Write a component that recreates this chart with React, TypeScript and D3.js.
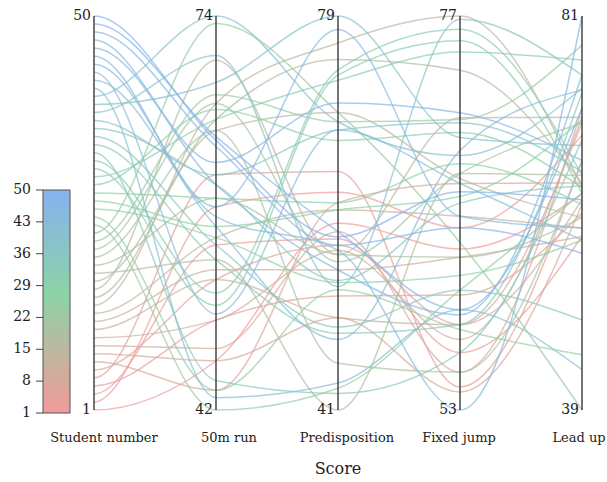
import * as d3 from 'd3';

// ── Layout ────────────────────────────────────────────────────────────────────
const VW = 607;
const VH = 482;
const TOP = 16;
const BOTTOM = 410;
const X_FIRST = 94;
const X_LAST = 582;
// Liberation Serif is not picked up here, DejaVu Serif is the serif that renders
const FONT = "'DejaVu Serif', serif";

// legend bar
const LG = { x: 43, w: 27, top: 190, bottom: 413 };

// ── Data ──────────────────────────────────────────────────────────────────────
const DIMENSIONS = ['Student number', '50m run', 'Predisposition', 'Fixed jump', 'Lead up'];
const LABEL_X = [104, 229, 347, 459, 579];

const STUDENT = [
  1, 2, 3, 4, 5, 6, 7, 8, 9, 10,
  11, 12, 13, 14, 15, 16, 17, 18, 19, 20,
  21, 22, 23, 24, 25, 26, 27, 28, 29, 30,
  31, 32, 33, 34, 35, 36, 37, 38, 39, 40,
  41, 42, 43, 44, 45, 46, 47, 48, 49, 50,
];
const RUN_50M = [
  46.0, 58.5, 55.4, 49.3, 61.1, 52.6, 43.6, 46.0, 47.0, 49.3,
  52.6, 53.4, 56.0, 66.9, 64.7, 70.4, 65.6, 54.2, 59.2, 64.7,
  66.9, 67.6, 73.4, 42.0, 43.6, 56.0, 56.9, 59.2, 66.4, 65.6,
  50.5, 51.5, 44.4, 54.2, 55.4, 60.3, 61.1, 70.8, 68.6, 74.0,
  43.0, 56.9, 49.8, 57.7, 58.5, 60.3, 62.1, 63.4, 64.2, 63.9,
];
const PREDISPOSITION = [
  59.0, 62.0, 57.5, 52.0, 64.0, 56.9, 61.0, 49.9, 58.2, 56.4,
  49.9, 54.5, 60.3, 76.4, 69.7, 56.0, 74.8, 41.0, 56.0, 45.5,
  55.3, 68.8, 69.7, 43.1, 52.6, 53.3, 60.3, 61.0, 67.0, 72.8,
  73.3, 73.8, 42.6, 48.4, 49.0, 53.5, 68.0, 52.9, 79.0, 68.8,
  43.6, 47.8, 68.0, 56.4, 77.7, 54.5, 70.6, 56.9, 58.2, 57.7,
];
const FIXED_JUMP = [
  62.8, 64.1, 56.5, 60.0, 54.4, 58.2, 66.8, 54.1, 55.3, 57.3,
  58.2, 62.3, 64.8, 77.0, 67.1, 70.8, 73.7, 67.4, 62.3, 55.3,
  67.4, 70.7, 63.2, 60.3, 57.9, 61.2, 66.0, 68.0, 69.9, 74.8,
  75.5, 76.2, 56.5, 58.2, 60.3, 65.6, 70.5, 76.8, 69.6, 68.5,
  59.1, 68.8, 66.8, 53.0, 64.8, 58.8, 71.1, 64.1, 59.1, 66.3,
];
const LEAD_UP = [
  62.0, 68.3, 57.5, 60.0, 65.6, 69.6, 63.2, 60.9, 71.2, 70.2,
  61.4, 57.5, 58.4, 62.7, 59.5, 70.2, 63.2, 64.0, 59.5, 65.6,
  69.6, 77.9, 39.0, 62.1, 44.9, 57.1, 69.9, 60.9, 62.7, 76.3,
  62.1, 64.0, 67.8, 72.8, 48.6, 62.9, 64.4, 74.7, 67.2, 73.3,
  43.3, 73.1, 57.1, 81.0, 58.4, 74.7, 65.6, 55.7, 71.2, 61.4,
];
const COLUMNS = [STUDENT, RUN_50M, PREDISPOSITION, FIXED_JUMP, LEAD_UP];

const LEGEND_TICKS = [1, 8, 15, 22, 29, 36, 43, 50];
const COLOR_STOPS = [1, 27, 50];
const COLOR_RANGE = ['#f29a9a', '#8dd3a6', '#86b2ee'];

// ── Curve: monotone cubic, flat start on the first axis ──────────────────────
class Smooth {
  _context: any;
  _line = NaN;
  _x: number[] = [];
  _y: number[] = [];
  constructor(context: any) { this._context = context; }
  areaStart() { this._line = 0; }
  areaEnd() { this._line = NaN; }
  lineStart() { this._x = []; this._y = []; }
  point(x: number, y: number) { this._x.push(+x); this._y.push(+y); }
  lineEnd() {
    const xs = this._x, ys = this._y, n = xs.length, ctx = this._context;
    if (n) {
      if (this._line) ctx.lineTo(xs[0], ys[0]); else ctx.moveTo(xs[0], ys[0]);
      if (n === 2) {
        ctx.lineTo(xs[1], ys[1]);
      } else if (n > 2) {
        const s: number[] = [];
        for (let i = 0; i < n - 1; i++) s[i] = (ys[i + 1] - ys[i]) / (xs[i + 1] - xs[i]);
        const m: number[] = [0];
        for (let i = 1; i < n - 1; i++) {
          const p = (s[i - 1] + s[i]) / 2;
          m[i] = (Math.sign(s[i - 1]) + Math.sign(s[i])) *
            Math.min(Math.abs(s[i - 1]), Math.abs(s[i]), 0.5 * Math.abs(p));
        }
        m[n - 1] = (3 * s[n - 2] - m[n - 2]) / 2;
        for (let i = 0; i < n - 1; i++) {
          const dx = (xs[i + 1] - xs[i]) / 3;
          ctx.bezierCurveTo(
            xs[i] + dx, ys[i] + m[i] * dx,
            xs[i + 1] - dx, ys[i + 1] - m[i + 1] * dx,
            xs[i + 1], ys[i + 1]
          );
        }
      }
    }
    if (this._line || (this._line !== 0 && n === 1)) ctx.closePath();
    this._line = 1 - this._line;
    this._x = []; this._y = [];
  }
}
const curveSmooth = (context: any) => new Smooth(context);

// ── Scales ────────────────────────────────────────────────────────────────────
const xScale = d3.scalePoint<string>().domain(DIMENSIONS).range([X_FIRST, X_LAST]);
const yScales = COLUMNS.map(col =>
  d3.scaleLinear().domain(d3.extent(col) as [number, number]).range([BOTTOM, TOP])
);
const color = d3.scaleLinear<string>().domain(COLOR_STOPS).range(COLOR_RANGE)
  .interpolate(d3.interpolateRgb);
const legendY = d3.scaleLinear().domain([1, 50]).range([LG.bottom, LG.top]);

const line = d3.line<[number, number]>().curve(curveSmooth as any);

export default function App() {
  return (
    <svg
      width={VW}
      height={VH}
      viewBox={`0 0 ${VW} ${VH}`}
      style={{ position: 'absolute', left: 0, top: 0, background: '#fff' }}
      fontFamily={FONT}
    >
      <defs>
        <linearGradient id="lg-grad" x1="0" y1="1" x2="0" y2="0">
          {COLOR_STOPS.map((v, i) => (
            <stop key={v} offset={(v - 1) / 49} stopColor={COLOR_RANGE[i]} />
          ))}
        </linearGradient>
      </defs>

      {/* lines, one per student */}
      {STUDENT.map((s, i) => {
        const pts = DIMENSIONS.map((d, j) =>
          [xScale(d) ?? 0, yScales[j](COLUMNS[j][i])] as [number, number]
        );
        return (
          <path
            key={s}
            d={line(pts) ?? ''}
            fill="none"
            stroke={color(s)}
            strokeWidth={1.5}
            strokeOpacity={0.7}
          />
        );
      })}

      {/* axes */}
      {DIMENSIONS.map((d, j) => {
        const x = xScale(d) ?? 0;
        const [lo, hi] = yScales[j].domain();
        return (
          <g key={d}>
            <line x1={x} x2={x} y1={TOP} y2={BOTTOM} stroke="#3a3a3a" strokeWidth={1.4} />
            <text x={x - 3} y={TOP} textAnchor="end" dominantBaseline="middle"
              fontSize={14} fill="#222">{d3.format('d')(hi)}</text>
            <text x={x - 3} y={BOTTOM} textAnchor="end" dominantBaseline="middle"
              fontSize={14} fill="#222">{d3.format('d')(lo)}</text>
            <text x={LABEL_X[j]} y={442} textAnchor="middle" fontSize={13} fill="#222">{d}</text>
          </g>
        );
      })}

      <text x={338} y={474} textAnchor="middle" fontSize={16} fill="#222">Score</text>

      {/* color legend */}
      <rect x={LG.x} y={LG.top} width={LG.w} height={LG.bottom - LG.top}
        fill="url(#lg-grad)" stroke="#555" strokeWidth={1} />
      {LEGEND_TICKS.map(t => (
        <g key={t}>
          <line x1={LG.x - 7} x2={LG.x} y1={legendY(t)} y2={legendY(t)} stroke="#444" strokeWidth={1} />
          <text x={31} y={legendY(t)} textAnchor="end" dominantBaseline="middle"
            fontSize={14} fill="#222">{t}</text>
        </g>
      ))}
    </svg>
  );
}
